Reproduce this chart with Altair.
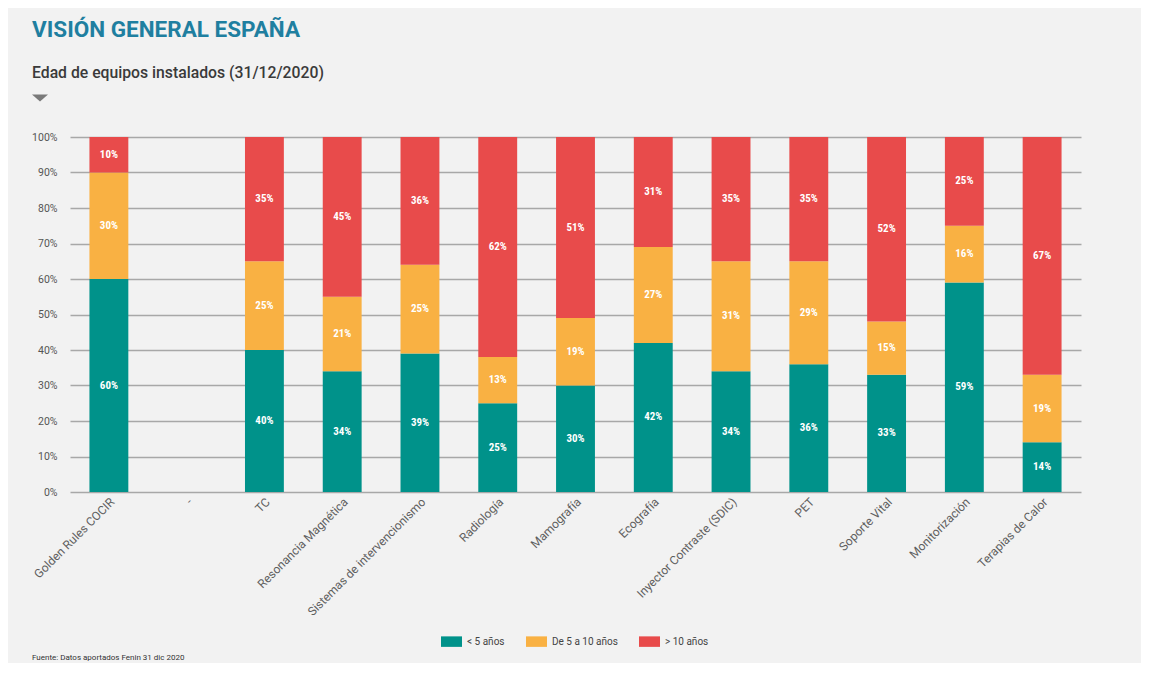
import altair as alt
import pandas as pd

categories = ["Golden Rules COCIR", "-", "TC", "Resonancia Magnética",
              "Sistemas de intervencionismo", "Radiología", "Mamografía",
              "Ecografía", "Inyector Contraste (SDIC)", "PET", "Soporte Vital",
              "Monitorización", "Terapias de Calor"]
groups = ["< 5 años", "De 5 a 10 años", "> 10 años"]
less5 = [60, None, 40, 34, 39, 25, 30, 42, 34, 36, 33, 59, 14]
mid5_10 = [30, None, 25, 21, 25, 13, 19, 27, 31, 29, 15, 16, 19]
more10 = [10, None, 35, 45, 36, 62, 51, 31, 35, 35, 52, 25, 67]
colors = ["#00928a", "#f9b143", "#e84b4b"]
y_ticks = [0, 10, 20, 30, 40, 50, 60, 70, 80, 90, 100]

rows = []
for i, c in enumerate(categories):
    for k, series in enumerate([less5, mid5_10, more10]):
        v = series[i]
        if v is not None:
            rows.append({"cat": c, "grp": groups[k], "ord": k, "value": v})
df = pd.DataFrame(rows)

FONT = "Roboto"
COND = "Roboto Condensed, Liberation Sans Narrow, Arial Narrow, Roboto"

base = alt.Chart(df).transform_stack(
    stack="value", groupby=["cat"], as_=["v0", "v1"],
    sort=[alt.SortField("ord", order="ascending")]
).transform_calculate(
    mid="(datum.v0 + datum.v1) / 2", lbl="datum.value + '%'"
)

xscale = alt.Scale(domain=categories, paddingInner=0.5, paddingOuter=0.25)
xaxis = alt.Axis(title=None, labelAngle=-45, labelFont=FONT, labelFontSize=12,
                 labelColor="#5f5f5f", domain=False, ticks=False, labelPadding=4,
                 labelOverlap=False)
yscale = alt.Scale(domain=[0, 100], nice=False)
yaxis = alt.Axis(title=None, values=y_ticks, labelExpr="datum.value + '%'",
                 labelFont=FONT, labelFontSize=10.5, labelColor="#555555",
                 domain=False, ticks=False, labelPadding=13, labelOverlap=False,
                 gridColor="#a8a8a8", gridWidth=1.5)

bars = base.mark_bar().encode(
    x=alt.X("cat:N", scale=xscale, sort=categories, axis=xaxis),
    y=alt.Y("v0:Q", scale=yscale, axis=yaxis),
    y2="v1:Q",
    color=alt.Color("grp:N", scale=alt.Scale(domain=groups, range=colors),
                    legend=alt.Legend(title=None, orient="none", legendX=371, legendY=494,
                                      direction="horizontal", padding=0,
                                      symbolType="M-1,-0.5H1V0.5H-1Z", symbolSize=441,
                                      symbolStrokeWidth=0, labelFont=FONT, labelFontSize=10,
                                      labelColor="#444444", labelOffset=5, columnPadding=21)),
)

labels = base.mark_text(color="white", font=COND, fontSize=11, fontWeight="bold",
                        align="center", baseline="middle").encode(
    x=alt.X("cat:N", scale=xscale, sort=categories, axis=xaxis),
    y=alt.Y("mid:Q", scale=yscale, axis=yaxis),
    text="lbl:N",
)

one = pd.DataFrame({"t": ["VISIÓN GENERAL ESPAÑA"]})
title = alt.Chart(one).mark_text(font=FONT, fontSize=22.5, fontWeight="bold", color="#1f7fa0",
                                 align="left", baseline="alphabetic").encode(
    x=alt.value(-38), y=alt.value(-100), text="t:N")

sub_df = pd.DataFrame({"t": ["Edad de equipos instalados (31/12/2020)"]})
subtitle = alt.Chart(sub_df).mark_text(font=FONT, fontSize=15.75, fontWeight=500, color="#3a3a3a",
                                       align="left", baseline="alphabetic").encode(
    x=alt.value(-38), y=alt.value(-59.5), text="t:N")

tri_df = pd.DataFrame({"t": [1]})
triangle = alt.Chart(tri_df).mark_point(shape="M-1,-0.45L1,-0.45L0,0.45Z", size=256,
                                        filled=True, color="#7a7a7a", opacity=1).encode(
    x=alt.value(-30), y=alt.value(-39))

foot_df = pd.DataFrame({"t": ["Fuente: Datos aportados Fenin 31 dic 2020"]})
foot = alt.Chart(foot_df).mark_text(font=FONT, fontSize=8, color="#333333",
                                    align="left", baseline="alphabetic").encode(
    x=alt.value(-38), y=alt.value(523), text="t:N")

chart = alt.layer(bars, labels, title, subtitle, triangle, foot).properties(
    width=1011, height=355,
    autosize=alt.AutoSizeParams(type="none"),
    padding={"left": 62, "top": 129, "right": 60, "bottom": 171},
    background="#f2f2f2",
).configure_view(stroke=None)

chart.save("out.html", embed_options={"renderer": "svg", "actions": False})
